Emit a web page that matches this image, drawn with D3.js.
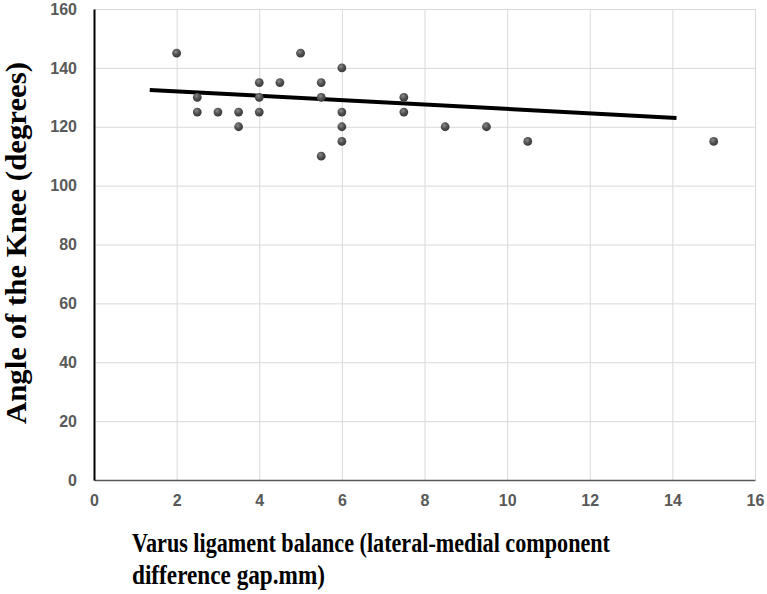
<!DOCTYPE html>
<html>
<head>
<meta charset="utf-8">
<script src="https://cdn.jsdelivr.net/npm/d3@7"></script>
<style>
  html, body { margin: 0; padding: 0; background: #fff; }
  svg { display: block; }
</style>
</head>
<body>
<svg id="chart" width="767" height="594"></svg>
<script>
// ---- data ----
const xValues = [2, 2.5, 2.5, 3, 3.5, 3.5, 4, 4, 4, 4.5, 5, 5.5, 5.5, 5.5, 6, 6, 6, 6, 7.5, 7.5, 8.5, 9.5, 10.5, 15];
const yValues = [145, 130, 125, 125, 125, 120, 135, 130, 125, 135, 145, 135, 130, 110, 140, 125, 120, 115, 130, 125, 120, 120, 115, 115];
const trendX = [1.35, 14.1];
const trendY = [132.5, 123.0];
const xTicks = [0, 2, 4, 6, 8, 10, 12, 14, 16];
const yTicks = [0, 20, 40, 60, 80, 100, 120, 140, 160];
const xTitleLines = ["Varus ligament balance (lateral-medial component", "difference gap.mm)"];
const yTitle = "Angle of the Knee (degrees)";

// ---- layout ----
const svg = d3.select("#chart");
const plotLeft = 94, plotRight = 755, plotTop = 9, plotBottom = 480;

const x = d3.scaleLinear().domain([0, 16]).range([plotLeft, plotRight]);
const y = d3.scaleLinear().domain([0, 160]).range([plotBottom, plotTop]);

const defs = svg.append("defs");
const grad = defs.append("radialGradient").attr("id", "ball")
  .attr("cx", "40%").attr("cy", "35%").attr("r", "65%");
grad.append("stop").attr("offset", "0%").attr("stop-color", "#8a8a8a");
grad.append("stop").attr("offset", "55%").attr("stop-color", "#505050");
grad.append("stop").attr("offset", "100%").attr("stop-color", "#3a3a3a");

// gridlines
svg.append("g")
  .attr("transform", `translate(0,${plotBottom})`)
  .call(d3.axisBottom(x).tickValues(xTicks.slice(1)).tickSize(-(plotBottom - plotTop)).tickFormat(""))
  .call(g => g.select(".domain").remove())
  .call(g => g.selectAll("line").attr("stroke", "#d9d9d9").attr("stroke-width", 1));

svg.append("g")
  .attr("transform", `translate(${plotLeft},0)`)
  .call(d3.axisLeft(y).tickValues(yTicks.slice(1)).tickSize(-(plotRight - plotLeft)).tickFormat(""))
  .call(g => g.select(".domain").remove())
  .call(g => g.selectAll("line").attr("stroke", "#d9d9d9").attr("stroke-width", 1));

// x axis
const xAxis = svg.append("g")
  .attr("transform", `translate(0,${plotBottom})`)
  .call(d3.axisBottom(x).tickValues(xTicks).tickSize(0).tickPadding(15).tickFormat(d3.format("d")));
xAxis.select(".domain").attr("stroke", "#595959").attr("stroke-width", 1.5);
xAxis.selectAll("text")
  .attr("fill", "#595959")
  .style("font-family", "'Liberation Sans', Arial, sans-serif")
  .style("font-weight", "bold")
  .style("font-size", "16px");

// y axis
const yAxis = svg.append("g")
  .attr("transform", `translate(${plotLeft},0)`)
  .call(d3.axisLeft(y).tickValues(yTicks).tickSize(0).tickPadding(17).tickFormat(d3.format("d")));
yAxis.select(".domain").attr("stroke", "#000").attr("stroke-width", 2);
yAxis.selectAll("text")
  .attr("fill", "#595959")
  .style("font-family", "'Liberation Sans', Arial, sans-serif")
  .style("font-weight", "bold")
  .style("font-size", "16px");

// trend line
svg.append("line")
  .attr("x1", x(trendX[0])).attr("y1", y(trendY[0]))
  .attr("x2", x(trendX[1])).attr("y2", y(trendY[1]))
  .attr("stroke", "#000").attr("stroke-width", 4);

// points
svg.append("g").selectAll("circle")
  .data(xValues.map((v, i) => [v, yValues[i]]))
  .join("circle")
  .attr("cx", d => x(d[0]))
  .attr("cy", d => y(d[1]))
  .attr("r", 4.4)
  .attr("fill", "url(#ball)");

// titles
svg.append("text")
  .attr("transform", `translate(26,${(62 + 424) / 2}) rotate(-90)`)
  .attr("text-anchor", "middle")
  .attr("textLength", 362)
  .attr("lengthAdjust", "spacingAndGlyphs")
  .style("font-family", "'Liberation Serif', 'Times New Roman', serif")
  .style("font-weight", "bold")
  .style("font-size", "29px")
  .attr("fill", "#000")
  .text(yTitle);

const xTitleLengths = [478, 193];
svg.append("g").selectAll("text")
  .data(xTitleLines)
  .join("text")
  .attr("x", 132)
  .attr("y", (d, i) => 552 + i * 32)
  .attr("textLength", (d, i) => xTitleLengths[i])
  .attr("lengthAdjust", "spacingAndGlyphs")
  .style("font-family", "'Liberation Serif', 'Times New Roman', serif")
  .style("font-weight", "bold")
  .style("font-size", "27px")
  .attr("fill", "#000")
  .text(d => d);
</script>
</body>
</html>
